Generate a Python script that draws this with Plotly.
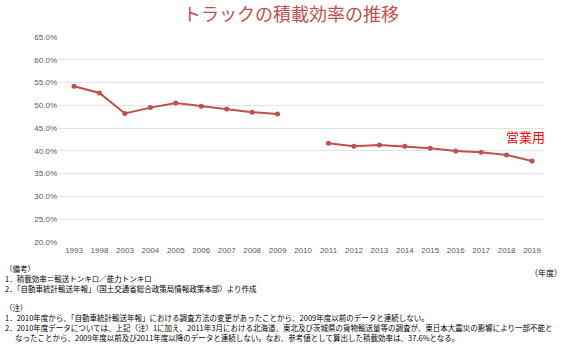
import plotly.graph_objects as go

years = ["1993", "1998", "2003", "2004", "2005", "2006", "2007", "2008", "2009", "2010",
         "2011", "2012", "2013", "2014", "2015", "2016", "2017", "2018", "2019"]
efficiency = [54.2, 52.7, 48.2, 49.5, 50.5, 49.8, 49.2, 48.5, 48.1, None,
              41.7, 41.0, 41.3, 41.0, 40.6, 40.0, 39.7, 39.1, 37.8]
y_ticks = [20, 25, 30, 35, 40, 45, 50, 55, 60, 65]
y_tick_text = [f"{v:.1f}%" for v in y_ticks]

title = "トラックの積載効率の推移"
series_label = "営業用"
unit_label = "（年度）"
notes = [
    ("（備考）", 0),
    ("1．積載効率＝輸送トンキロ／能力トンキロ", 0),
    ("2．「自動車統計輸送年報」（国土交通省総合政策局情報政策本部）より作成", 0),
    ("（注）", 0),
    ("1．2010年度から、「自動車統計輸送年報」における調査方法の変更があったことから、2009年度以前のデータと連続しない。", 0),
    ("2．2010年度データについては、上記（注）1に加え、2011年3月における北海道、東北及び茨城県の貨物輸送量等の調査が、東日本大震災の影響により一部不能と", 0),
    ("なったことから、2009年度以前及び2011年度以降のデータと連続しない。なお、参考値として算出した積載効率は、37.6%となる。", 1),
]
note_y = [268, 278, 288, 307, 317, 327, 337]

W, H = 567, 354
L, R, T, B = 58, 23, 37, 112
PW, PH = W - L - R, H - T - B


def px(xpix):
    return (xpix - L) / PW


def py(ypix):
    return (H - B - ypix) / PH


fig = go.Figure()
fig.add_trace(go.Scatter(
    x=years, y=efficiency, mode="lines+markers",
    line=dict(color="#C0504D", width=2),
    marker=dict(color="#C0504D", size=5),
    connectgaps=False, showlegend=False, hoverinfo="skip",
))

font_jp = "Noto Sans CJK JP"
fig.update_layout(
    width=W, height=H,
    margin=dict(l=L, r=R, t=T, b=B),
    paper_bgcolor="white", plot_bgcolor="white",
    font=dict(family=font_jp, color="#000"),
    xaxis=dict(type="category", categoryorder="array", categoryarray=years,
               range=[-0.63, len(years) - 0.53],
               showgrid=False, zeroline=False, showline=False, ticks="",
               tickfont=dict(size=8, color="#595959", family="Liberation Sans"),
               ticklabelstandoff=2),
    yaxis=dict(range=[20, 65], tickvals=y_ticks, ticktext=y_tick_text,
               showgrid=True, gridcolor="#e3e3e3", gridwidth=1, zeroline=False,
               showline=False, ticks="",
               tickfont=dict(size=8, color="#595959", family="Liberation Sans")),
)

ann = []
ann.append(dict(text=title, x=px(291), y=py(13), xref="paper", yref="paper",
                showarrow=False, xanchor="center", yanchor="middle",
                font=dict(size=18, color="#C0504D", family=font_jp)))
ann.append(dict(text=series_label, x=years.index("2018"), y=40.6, xref="x", yref="y",
                showarrow=False, xanchor="left", yanchor="bottom", xshift=-3,
                font=dict(size=13, color="#FF0000", family=font_jp)))
ann.append(dict(text=unit_label, x=px(564), y=py(272), xref="paper", yref="paper",
                showarrow=False, xanchor="right", yanchor="middle",
                font=dict(size=8, color="#000", family=font_jp)))
for (txt, indent), yy in zip(notes, note_y):
    ann.append(dict(text=txt, x=px(3 + 10 * indent), y=py(yy),
                    xref="paper", yref="paper", showarrow=False,
                    xanchor="left", yanchor="middle",
                    font=dict(size=7.5, color="#000", family=font_jp)))
fig.update_layout(annotations=ann)

fig.write_html("out.html")
